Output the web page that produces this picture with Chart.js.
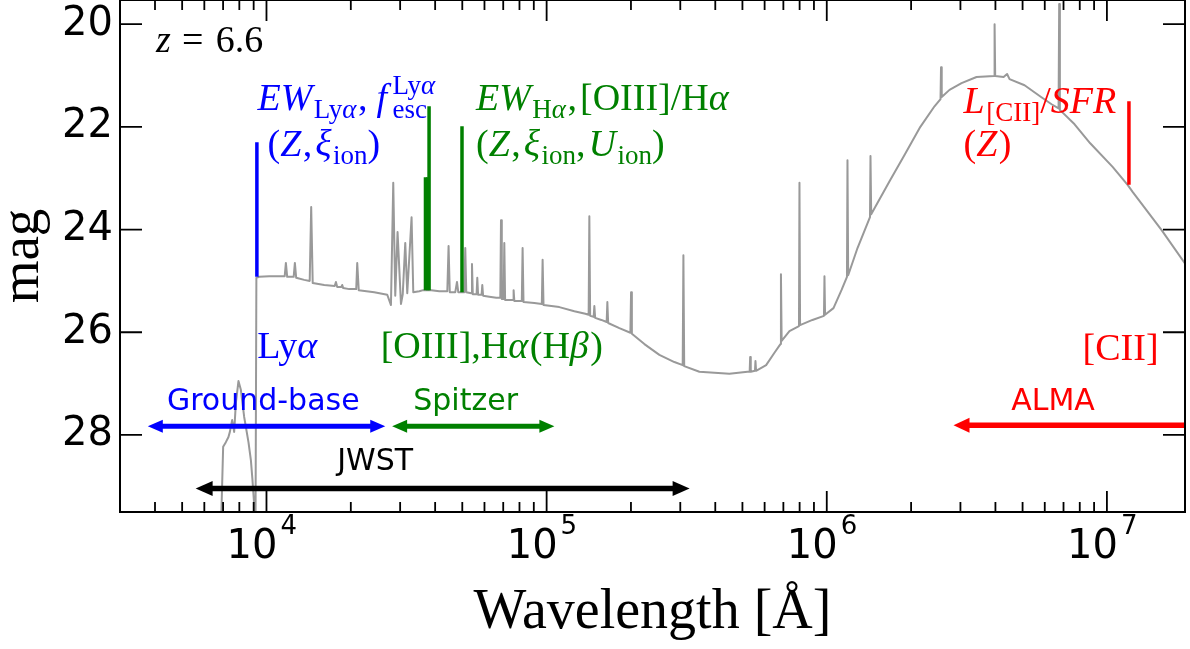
<!DOCTYPE html>
<html>
<head>
<meta charset="utf-8">
<title>SED at z=6.6</title>
<script src="https://cdn.jsdelivr.net/npm/chart.js"></script>
<style>
  html, body { margin: 0; padding: 0; background: #fff; }
  canvas { display: block; }
</style>
</head>
<body>
<canvas id="sedChart" width="1190" height="649"></canvas>
<script>
const sedWave = [
  6862, 7004, 7161, 7316, 7401, 7542, 7667, 7775, 7943, 8101,
  8325, 8624, 8797, 8913, 9076, 9135, 9203, 9417, 10225, 11100,
  11614, 11729, 11855, 12250, 12505, 12629, 12765, 13634, 14265, 14441,
  14622, 16074, 17521, 17695, 17886, 18484, 18637, 18791, 19742, 20911,
  21084, 21346, 24245, 26984, 27818, 28349, 28819, 29370, 30200, 30650,
  31288, 31810, 32954, 33418, 35107, 36281, 38753, 41390, 44208, 44668,
  45112, 47199, 47863, 48378, 50823, 51242, 51665, 53834, 54145, 54503,
  56234, 56559, 56933, 58595, 58934, 59322, 62425, 66125, 68336, 68731,
  69183, 70217, 70623, 71089, 73587, 75858, 76233, 76673, 81545, 82083,
  82692, 90393, 96126, 96759, 97478, 111000, 125600, 137460, 141250, 142070,
  143010, 147190, 148040, 149010, 156800, 163790, 164740, 165820, 181810, 199040,
  200190, 201510, 223350, 252640, 285760, 306010, 307780, 309810, 351000, 449260,
  521090, 530600, 532790, 535420, 554240, 556520, 559270, 607500, 650490, 683360,
  686170, 690140, 735870, 795740, 799020, 802970, 888930, 977240, 981280, 986130,
  1056700, 1128500, 1180700, 1185600, 1192400, 1287400, 1426500, 1432400, 1440700, 1683000,
  1894500, 2158000, 2424500, 2547300, 2557800, 2572600, 2742500, 3027500, 3424500, 3956100,
  3972400, 3992000, 4277400, 4402300, 4492600, 5082300, 5821000, 6346100, 6721900, 6755100,
  6794100, 7667300, 8717400, 10480000, 11856000, 12333000, 15680000, 19742000
];
const sedMag = [
  30.04, 28.23, 28.14, 28.04, 27.94, 27.71, 27.94, 27.38, 26.95, 27.12,
  27.65, 28.14, 28.49, 28.88, 29.50, 30.04, 24.94, 24.92, 24.91, 24.91,
  24.91, 24.65, 24.92, 24.92, 24.92, 24.65, 24.94, 24.98, 25.00, 23.56,
  25.04, 25.08, 25.10, 25.02, 25.12, 25.12, 25.08, 25.14, 25.16, 25.16,
  24.65, 25.18, 25.22, 25.27, 25.47, 23.09, 25.29, 24.05, 25.45, 25.26,
  24.26, 25.24, 23.76, 25.22, 25.20, 25.18, 25.18, 25.20, 25.20, 24.32,
  25.22, 25.22, 25.02, 25.22, 25.22, 24.36, 25.22, 25.24, 24.67, 25.26,
  25.26, 24.94, 25.27, 25.27, 25.08, 25.29, 25.31, 25.33, 25.33, 23.82,
  25.35, 25.35, 24.26, 25.37, 25.37, 25.37, 25.18, 25.39, 25.39, 24.36,
  25.41, 25.43, 25.45, 24.59, 25.47, 25.51, 25.59, 25.64, 25.66, 23.74,
  25.68, 25.70, 25.49, 25.72, 25.76, 25.80, 25.41, 25.82, 25.92, 26.01,
  25.22, 26.03, 26.23, 26.44, 26.58, 26.64, 24.50, 26.66, 26.77, 26.81,
  26.77, 26.77, 26.48, 26.77, 26.75, 26.56, 26.75, 26.64, 26.40, 26.23,
  24.87, 26.17, 25.98, 25.88, 23.09, 25.86, 25.76, 25.68, 24.91, 25.66,
  25.53, 25.18, 24.92, 22.65, 24.89, 24.36, 23.76, 22.57, 23.70, 23.04,
  22.55, 22.00, 21.60, 21.46, 20.84, 21.42, 21.28, 21.15, 21.03, 21.01,
  20.00, 21.01, 21.03, 20.97, 21.07, 21.19, 21.42, 21.56, 21.64, 19.61,
  21.67, 21.95, 22.32, 22.78, 23.13, 23.26, 24.01, 24.79
];

// marked lines: Lya, Hb, [OIII]4959, [OIII]5007, Ha, [CII]
const lineWave = [9242, 36944, 37688, 38053, 49879, 11985000];
const lineTop = [22.30, 22.98, 22.98, 21.60, 21.99, 21.50];
const lineBase = [24.92, 25.18, 25.18, 25.18, 25.22, 23.13];

// wavelength coverage of the facilities
const arrowNames = ["Ground-base", "Spitzer", "JWST", "ALMA"];
const arrowFrom = [3771, 28090, 5587, 2834600];
const arrowTo = [26540, 106600, 323900, 30000000];
const arrowMag = [27.83, 27.83, 29.04, 27.81];

// ticks
const xMajorTicks = [1e4, 1e5, 1e6, 1e7];
const xTickExp = ["4", "5", "6", "7"];
const xMinorSteps = [2, 3, 4, 5, 6, 7, 8, 9];
const magTicks = [20, 22, 24, 26, 28];

const BLUE = "#0000ff", GREEN = "#008000", RED = "#ff0000", GRAY = "#999999";
const lineColors = [BLUE, GREEN, GREEN, GREEN, GREEN, RED];
const arrowStyles = [
  { color: BLUE, width: 5, heads: "both", hl: 15, hw: 6.5 },
  { color: GREEN, width: 5, heads: "both", hl: 15, hw: 6.5 },
  { color: "#000", width: 5.5, heads: "both", hl: 17, hw: 7.5 },
  { color: RED, width: 5.5, heads: "start", hl: 16, hw: 7.5 }
];
const arrowLabelAt = [[4412, 27.51], [33418, 27.51], [17886, 28.68], [4554800, 27.51]];

// math-style labels: parts are drawn one after another
const R = t => ({ t });
const I = t => ({ t, i: true });
const SB = (t, i) => ({ t, s: "sub", i });
const SP = (t, i) => ({ t, s: "sup", i });
const mathLabels = [
  { at: [4036, 20.55], color: "#000", parts: [I("z"), { t: " = ", gap: 3 }, R("6.6")] },
  { at: [9287, 21.67], color: BLUE,
    parts: [I("EW"), SB("Ly"), SB("α", true), { t: ",", gap: 9 }, { t: "f", i: true, gap: 4 },
            { t: "esc", s: "sub", stack: true }, SP("Ly"), SP("α", true)] },
  { at: [10083, 22.57], color: BLUE,
    parts: [R("("), I("Z"), { t: ",", gap: 3 }, I("ξ"), SB("ion"), R(")")] },
  { at: [55957, 21.67], color: GREEN,
    parts: [I("EW"), SB("H"), SB("α", true), { t: ",", gap: 3 }, R("[OIII]/H"), I("α")] },
  { at: [55957, 22.57], color: GREEN,
    parts: [R("("), I("Z"), { t: ",", gap: 3 }, I("ξ"), SB("ion"), { t: ",", gap: 3 }, I("U"), SB("ion"), R(")")] },
  { at: [3077700, 21.73], color: RED,
    parts: [I("L"), SB("[CII]"), R("/"), I("SFR")] },
  { at: [3077700, 22.57], color: RED, parts: [R("("), I("Z"), R(")")] },
  { at: [9264, 26.50], color: BLUE, parts: [R("Ly"), I("α")] },
  { at: [25556, 26.50], color: GREEN, parts: [R("[OIII],H"), I("α"), R("(H"), I("β"), R(")")] },
  { at: [8189400, 26.54], color: RED, parts: [R("[CII]")] }
];

const SERIF = '"Liberation Serif", "Times New Roman", serif';
const SANS = '"DejaVu Sans", sans-serif';

function drawRich(ctx, x0, y0, parts, color, size) {
  let cx = x0;
  ctx.fillStyle = color;
  ctx.textAlign = "left";
  ctx.textBaseline = "alphabetic";
  for (const p of parts) {
    const sz = p.s ? Math.round(size * 0.7) : size;
    const dy = p.s === "sub" ? size * 0.22 : p.s === "sup" ? -size * 0.42 : 0;
    ctx.font = (p.i ? "italic " : "") + sz + "px " + SERIF;
    ctx.fillText(p.t, cx, y0 + dy);
    if (!p.stack) cx += ctx.measureText(p.t).width + (p.gap || 0) + (p.i ? 1.5 : 0);
  }
}

function drawArrow(ctx, x1, x2, yy, st) {
  const startHead = st.heads === "both" || st.heads === "start";
  const endHead = st.heads === "both" || st.heads === "end";
  ctx.strokeStyle = st.color;
  ctx.fillStyle = st.color;
  ctx.lineWidth = st.width;
  ctx.lineCap = "butt";
  ctx.beginPath();
  ctx.moveTo(x1 + (startHead ? st.hl * 0.8 : 0), yy);
  ctx.lineTo(x2 - (endHead ? st.hl * 0.8 : 0), yy);
  ctx.stroke();
  if (startHead) {
    ctx.beginPath();
    ctx.moveTo(x1, yy);
    ctx.lineTo(x1 + st.hl, yy - st.hw);
    ctx.lineTo(x1 + st.hl, yy + st.hw);
    ctx.closePath();
    ctx.fill();
  }
  if (endHead) {
    ctx.beginPath();
    ctx.moveTo(x2, yy);
    ctx.lineTo(x2 - st.hl, yy - st.hw);
    ctx.lineTo(x2 - st.hl, yy + st.hw);
    ctx.closePath();
    ctx.fill();
  }
}

const annotations = {
  id: "annotations",
  afterDatasetsDraw(chart) {
    const { ctx, chartArea: a, scales: { x, y } } = chart;
    ctx.save();
    ctx.beginPath();
    ctx.rect(a.left, a.top, a.right - a.left, a.bottom - a.top);
    ctx.clip();
    arrowFrom.forEach((w, i) => {
      drawArrow(ctx, x.getPixelForValue(w), x.getPixelForValue(arrowTo[i]),
        y.getPixelForValue(arrowMag[i]), arrowStyles[i]);
    });
    ctx.restore();

    ctx.save();
    ctx.font = "30px " + SANS;
    ctx.textAlign = "left";
    ctx.textBaseline = "alphabetic";
    arrowNames.forEach((name, i) => {
      ctx.fillStyle = arrowStyles[i].color;
      ctx.fillText(name, x.getPixelForValue(arrowLabelAt[i][0]), y.getPixelForValue(arrowLabelAt[i][1]));
    });
    mathLabels.forEach(l => {
      drawRich(ctx, x.getPixelForValue(l.at[0]), y.getPixelForValue(l.at[1]), l.parts, l.color, 38);
    });
    ctx.restore();
  },
  afterDraw(chart) {
    const { ctx, chartArea: a, scales: { x, y } } = chart;
    ctx.save();
    ctx.strokeStyle = "#000";
    ctx.lineWidth = 2;
    ctx.strokeRect(a.left, a.top, a.right - a.left, a.bottom - a.top);

    // inward ticks on all four sides
    ctx.lineWidth = 1.8;
    ctx.beginPath();
    const xTick = (px, len) => {
      ctx.moveTo(px, a.bottom); ctx.lineTo(px, a.bottom - len);
      ctx.moveTo(px, a.top); ctx.lineTo(px, a.top + len);
    };
    xMajorTicks.forEach(v => xTick(x.getPixelForValue(v), 21));
    [1e3].concat(xMajorTicks).forEach(dec => {
      xMinorSteps.forEach(m => {
        const v = m * dec;
        if (v > x.min && v < x.max) xTick(x.getPixelForValue(v), 10);
      });
    });
    magTicks.forEach(v => {
      const py = y.getPixelForValue(v);
      ctx.moveTo(a.left, py); ctx.lineTo(a.left + 22, py);
      ctx.moveTo(a.right, py); ctx.lineTo(a.right - 22, py);
    });
    ctx.stroke();

    // 10^n tick labels
    ctx.fillStyle = "#000";
    ctx.textBaseline = "alphabetic";
    xMajorTicks.forEach((v, i) => {
      const px = x.getPixelForValue(v);
      ctx.font = "40px " + SANS;
      ctx.textAlign = "right";
      ctx.fillText("10", px + 11, a.bottom + 46);
      ctx.font = "26px " + SANS;
      ctx.textAlign = "left";
      ctx.fillText(xTickExp[i], px + 14, a.bottom + 22);
    });

    // axis titles
    ctx.font = "56px " + SERIF;
    ctx.textAlign = "center";
    ctx.fillText("Wavelength [Å]", (a.left + a.right) / 2, 628);
    ctx.translate(38, (a.top + a.bottom) / 2);
    ctx.rotate(-Math.PI / 2);
    ctx.font = "55px " + SERIF;
    ctx.fillText("mag", 0, 0);
    ctx.restore();
  }
};

const datasets = lineWave.map((w, i) => ({
  data: [{ x: w, y: lineTop[i] }, { x: w, y: lineBase[i] }],
  borderColor: lineColors[i],
  borderWidth: 3.5,
  borderCapStyle: "butt",
  pointRadius: 0,
  order: 1
}));
datasets.push({
  data: sedWave.map((w, i) => ({ x: w, y: sedMag[i] })),
  borderColor: GRAY,
  borderWidth: 2,
  borderJoinStyle: "round",
  pointRadius: 0,
  tension: 0,
  clip: 0,
  order: 2
});

const ctx = document.getElementById("sedChart");
const sedChart = new Chart(ctx, {
  type: "line",
  data: { datasets },
  options: {
    responsive: false,
    animation: false,
    devicePixelRatio: 1,
    layout: { padding: { top: 0, right: 5, bottom: 0, left: 0 } },
    plugins: { legend: { display: false }, tooltip: { enabled: false } },
    scales: {
      x: {
        type: "logarithmic",
        min: 3000,
        max: 1.9e7,
        grid: { display: false, drawTicks: false },
        border: { display: false },
        ticks: { display: false },
        afterFit: s => { s.height = 137; s.paddingLeft = 0; s.paddingRight = 0; }
      },
      y: {
        type: "linear",
        reverse: true,
        min: 19.53,
        max: 29.5,
        grid: { display: false, drawTicks: false },
        border: { display: false },
        ticks: { color: "#000", padding: 7, font: { family: "DejaVu Sans", size: 40 } },
        afterBuildTicks: s => { s.ticks = magTicks.map(v => ({ value: v })); },
        afterFit: s => { s.width = 120; s.paddingTop = 0; s.paddingBottom = 0; }
      }
    }
  },
  plugins: [annotations]
});
</script>
</body>
</html>
